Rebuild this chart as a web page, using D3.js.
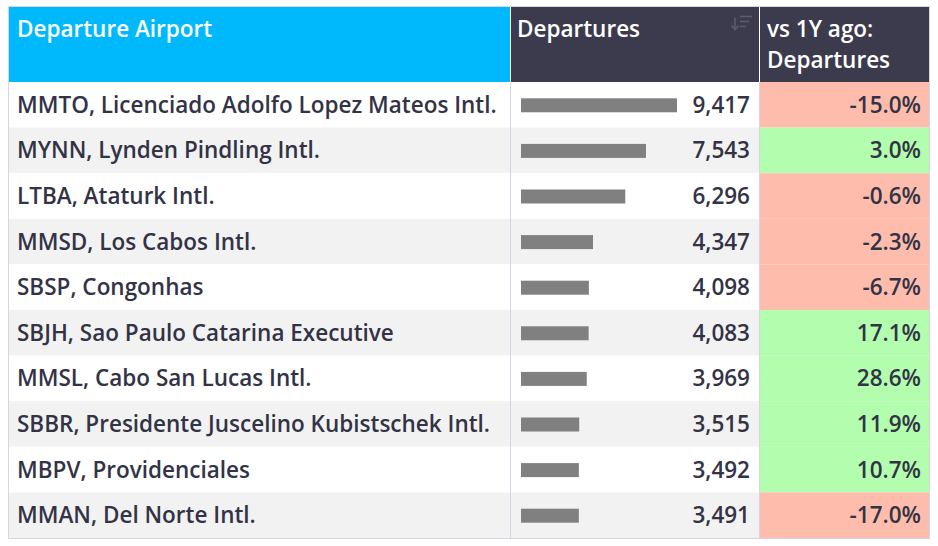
<!DOCTYPE html>
<html>
<head>
<meta charset="utf-8">
<script src="https://cdn.jsdelivr.net/npm/d3@7"></script>
<style>
  body { margin: 0; background: #fff; }
  text { font-family: "Open Sans", sans-serif; }
</style>
</head>
<body>
<div id="chart"></div>
<script>
const w = 938;
const h = 546;

// data
const airports = [
  "MMTO, Licenciado Adolfo Lopez Mateos Intl.",
  "MYNN, Lynden Pindling Intl.",
  "LTBA, Ataturk Intl.",
  "MMSD, Los Cabos Intl.",
  "SBSP, Congonhas",
  "SBJH, Sao Paulo Catarina Executive",
  "MMSL, Cabo San Lucas Intl.",
  "SBBR, Presidente Juscelino Kubistschek Intl.",
  "MBPV, Providenciales",
  "MMAN, Del Norte Intl."
];
const departures = [9417, 7543, 6296, 4347, 4098, 4083, 3969, 3515, 3492, 3491];
const change = [-15.0, 3.0, -0.6, -2.3, -6.7, 17.1, 28.6, 11.9, 10.7, -17.0];
const headers = ["Departure Airport", "Departures", ["vs 1Y ago:", "Departures"]];

// layout
const x0 = 8, x1 = 510, x2 = 759, x3 = 930;
const yTop = 6, yHead = 82, yBot = 538;
const barX = 521, barW = 156, barH = 14;
const fs = 22.5, hfs = 22.5;

const svg = d3.select("#chart")
  .append("svg")
  .attr("width", w)
  .attr("height", h);

const yScale = d3.scaleBand()
  .domain(d3.range(airports.length))
  .range([yHead, yBot]);

const xScale = d3.scaleLinear()
  .domain([0, d3.max(departures)])
  .range([0, barW]);

const fmt = d3.format(",");

// header cells
svg.append("rect").attr("x", x0).attr("y", yTop).attr("width", x1 - x0).attr("height", yHead - yTop).attr("fill", "#00b9fd");
svg.append("rect").attr("x", x1 + 1).attr("y", yTop).attr("width", x2 - x1 - 1).attr("height", yHead - yTop).attr("fill", "#3c3a4d");
svg.append("rect").attr("x", x2 + 1).attr("y", yTop).attr("width", x3 - x2 - 1).attr("height", yHead - yTop).attr("fill", "#3c3a4d");

const head = svg.append("g").attr("fill", "#fff").attr("font-size", hfs).attr("font-weight", 600);
head.append("text").attr("x", 17).attr("y", 37).text(headers[0]);
head.append("text").attr("x", 517).attr("y", 37).text(headers[1]);
head.append("text").attr("x", 767).attr("y", 37).text(headers[2][0]);
head.append("text").attr("x", 767).attr("y", 68).text(headers[2][1]);

// sort icon
const icon = svg.append("g").attr("stroke", "#5e5c72").attr("stroke-width", 1.5).attr("fill", "none");
icon.append("line").attr("x1", 735).attr("y1", 18).attr("x2", 735).attr("y2", 29);
icon.append("path").attr("d", "M731.5,25.5 L735,29.5 L738.5,25.5");
icon.append("line").attr("x1", 740).attr("y1", 16.5).attr("x2", 752).attr("y2", 16.5);
icon.append("line").attr("x1", 740).attr("y1", 21.5).attr("x2", 749).attr("y2", 21.5);
icon.append("line").attr("x1", 740).attr("y1", 26.5).attr("x2", 746).attr("y2", 26.5);

// rows
const rows = svg.append("g").selectAll("g")
  .data(airports)
  .enter()
  .append("g");

rows.append("rect")
  .attr("x", x0).attr("width", x2 - x0)
  .attr("y", (d, i) => yScale(i)).attr("height", yScale.bandwidth())
  .attr("fill", (d, i) => i % 2 ? "#f2f2f2" : "#fff");

rows.append("rect")
  .attr("x", x2 + 1).attr("width", x3 - x2 - 1)
  .attr("y", (d, i) => yScale(i)).attr("height", yScale.bandwidth())
  .attr("fill", (d, i) => change[i] >= 0 ? "#b2fdae" : "#febdac");

const cell = rows.append("g").attr("font-size", fs).attr("font-weight", 600).attr("fill", "#333346");

cell.append("text")
  .attr("x", 17)
  .attr("y", (d, i) => yScale(i) + yScale.bandwidth() / 2 + 8)
  .text(d => d);

rows.append("rect")
  .attr("x", barX)
  .attr("y", (d, i) => yScale(i) + yScale.bandwidth() / 2 - barH / 2 + 0.5)
  .attr("width", (d, i) => xScale(departures[i]))
  .attr("height", barH)
  .attr("fill", "#808080");

cell.append("text")
  .attr("x", 750)
  .attr("y", (d, i) => yScale(i) + yScale.bandwidth() / 2 + 8)
  .attr("text-anchor", "end")
  .text((d, i) => fmt(departures[i]));

cell.append("text")
  .attr("x", 921)
  .attr("y", (d, i) => yScale(i) + yScale.bandwidth() / 2 + 8)
  .attr("text-anchor", "end")
  .text((d, i) => change[i].toFixed(1) + "%");

// grid lines
const grid = svg.append("g").attr("stroke", "#d6d6e0").attr("stroke-width", 1);
grid.append("rect").attr("x", x0 + 0.5).attr("y", yTop + 0.5).attr("width", x3 - x0 - 1).attr("height", yBot - yTop).attr("fill", "none");
[x1, x2].forEach(x => {
  grid.append("line").attr("x1", x + 0.5).attr("x2", x + 0.5).attr("y1", yHead).attr("y2", yBot);
});
</script>
</body>
</html>
